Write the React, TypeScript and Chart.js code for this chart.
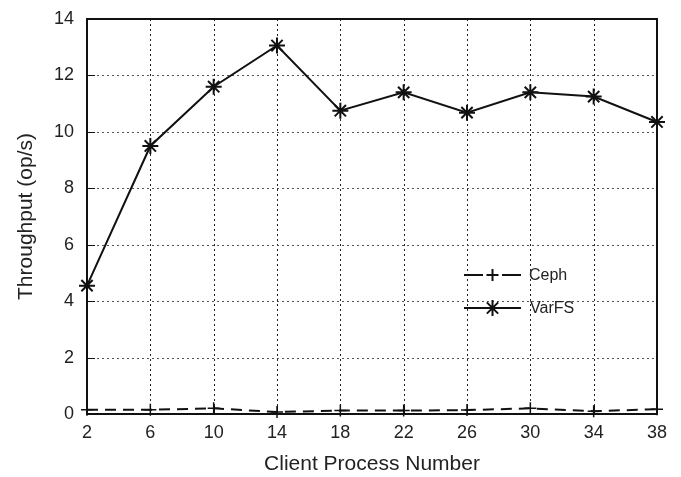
import React, { useEffect, useRef } from "react";
import { Chart, registerables } from "chart.js";

Chart.register(...registerables);

// Client process counts on the x axis
const processCounts = [2, 6, 10, 14, 18, 22, 26, 30, 34, 38];
// Throughput in op/s
const cephThroughput = [0.15, 0.15, 0.2, 0.07, 0.12, 0.12, 0.14, 0.2, 0.1, 0.17];
const varfsThroughput = [4.55, 9.5, 11.6, 13.06, 10.75, 11.4, 10.68, 11.4, 11.25, 10.35];
const yTicks = [0, 2, 4, 6, 8, 10, 12, 14];

const FONT = "'Liberation Sans', Arial, Helvetica, sans-serif";

// Dotted grid, inward tick marks, box frame and an inset legend
const framePlugin = {
  id: "frameGrid",
  beforeDatasetsDraw(chart: any) {
    const { ctx, chartArea: ca, scales } = chart;
    const xs = scales.x;
    const ys = scales.y;
    ctx.save();
    ctx.strokeStyle = "#222";
    ctx.lineWidth = 1;
    ctx.setLineDash([2, 3]);
    processCounts.forEach((_, i) => {
      if (i === 0 || i === processCounts.length - 1) return;
      const x = Math.round(xs.getPixelForValue(i)) + 0.5;
      ctx.beginPath();
      ctx.moveTo(x, ca.top);
      ctx.lineTo(x, ca.bottom);
      ctx.stroke();
    });
    ctx.strokeStyle = "#555";
    yTicks.forEach((v) => {
      if (v === yTicks[0] || v === yTicks[yTicks.length - 1]) return;
      const y = Math.round(ys.getPixelForValue(v)) + 0.5;
      ctx.beginPath();
      ctx.moveTo(ca.left, y);
      ctx.lineTo(ca.right, y);
      ctx.stroke();
    });
    // inward ticks
    ctx.setLineDash([]);
    ctx.strokeStyle = "#111";
    yTicks.forEach((v) => {
      const y = Math.round(ys.getPixelForValue(v)) + 0.5;
      ctx.beginPath();
      ctx.moveTo(ca.left, y);
      ctx.lineTo(ca.left + 8, y);
      ctx.stroke();
    });
    processCounts.forEach((_, i) => {
      const x = Math.round(xs.getPixelForValue(i)) + 0.5;
      ctx.beginPath();
      ctx.moveTo(x, ca.bottom);
      ctx.lineTo(x, ca.bottom - 8);
      ctx.stroke();
    });
    ctx.restore();
  },
  afterDatasetsDraw(chart: any) {
    const { ctx, chartArea: ca } = chart;
    ctx.save();
    ctx.strokeStyle = "#111";
    ctx.lineWidth = 2;
    ctx.strokeRect(ca.left, ca.top, ca.right - ca.left, ca.bottom - ca.top);

    // legend
    const x0 = ca.left + 377;
    const x1 = ca.left + 434;
    const xm = (x0 + x1) / 2;
    const rows = [ca.top + 256, ca.top + 289];
    const sets = chart.data.datasets;
    ctx.lineWidth = 2;
    ctx.strokeStyle = "#111";
    // Ceph sample: dash, plus, dash
    let y = rows[0];
    ctx.beginPath();
    ctx.moveTo(x0, y);
    ctx.lineTo(x0 + 19, y);
    ctx.moveTo(x1 - 19, y);
    ctx.lineTo(x1, y);
    ctx.moveTo(xm - 6, y);
    ctx.lineTo(xm + 6, y);
    ctx.moveTo(xm, y - 6);
    ctx.lineTo(xm, y + 6);
    ctx.stroke();
    // VarFS sample: solid line with asterisk
    y = rows[1];
    ctx.beginPath();
    ctx.moveTo(x0, y);
    ctx.lineTo(x1, y);
    ctx.stroke();
    const r = 8;
    ctx.beginPath();
    for (let k = 0; k < 4; k++) {
      const a = (k * Math.PI) / 4;
      ctx.moveTo(xm - r * Math.cos(a), y - r * Math.sin(a));
      ctx.lineTo(xm + r * Math.cos(a), y + r * Math.sin(a));
    }
    ctx.stroke();

    ctx.fillStyle = "#222";
    ctx.font = `16px ${FONT}`;
    ctx.textBaseline = "middle";
    ctx.textAlign = "left";
    ctx.fillText(sets[0].label, x1 + 8, rows[0] + 1);
    ctx.fillText(sets[1].label, x1 + 9, rows[1] + 1);
    ctx.restore();
  },
};

export default function App() {
  const canvasRef = useRef<HTMLCanvasElement | null>(null);

  useEffect(() => {
    const canvas = canvasRef.current;
    if (!canvas) return;
    const chart = new Chart(canvas, {
      type: "line",
      data: {
        labels: processCounts.map(String),
        datasets: [
          {
            label: "Ceph",
            data: cephThroughput,
            borderColor: "#111",
            backgroundColor: "#111",
            borderWidth: 2,
            borderDash: [11, 7],
            pointStyle: "cross",
            pointRadius: 6,
            pointBorderWidth: 1.5,
            pointBorderColor: "#111",
            tension: 0,
            clip: false,
          },
          {
            label: "VarFS",
            data: varfsThroughput,
            borderColor: "#111",
            backgroundColor: "#111",
            borderWidth: 2,
            pointStyle: "star",
            pointRadius: 8,
            pointBorderWidth: 2,
            pointBorderColor: "#111",
            tension: 0,
            clip: false,
          },
        ],
      },
      options: {
        responsive: false,
        animation: false,
        events: [],
        layout: { padding: { top: 19, right: 24, left: 0, bottom: 0 } },
        plugins: {
          legend: { display: false },
          tooltip: { enabled: false },
        },
        scales: {
          x: {
            offset: false,
            grid: { display: false, drawTicks: true, tickLength: 8 },
            border: { display: false },
            ticks: {
              color: "#222",
              font: { family: FONT, size: 18 },
              padding: 0,
              maxRotation: 0,
              autoSkip: false,
            },
            title: {
              display: true,
              text: "Client Process Number",
              color: "#222",
              font: { family: FONT, size: 21 },
              padding: { top: 0, bottom: 0 },
            },
            afterFit(scale: any) {
              scale.height = 63;
            },
          },
          y: {
            min: 0,
            max: 14,
            grid: { display: false, drawTicks: true, tickLength: 13 },
            border: { display: false },
            ticks: {
              stepSize: 2,
              color: "#222",
              font: { family: FONT, size: 18 },
              padding: 0,
            },
            title: {
              display: true,
              text: "Throughput (op/s)",
              color: "#222",
              font: { family: FONT, size: 21 },
              padding: { top: 14, bottom: 0 },
            },
            afterFit(scale: any) {
              scale.width = 87;
            },
          },
        },
      },
      plugins: [framePlugin],
    });
    return () => chart.destroy();
  }, []);

  return (
    <div style={{ position: "fixed", left: 0, top: 0, width: 681, height: 477, background: "#fff" }}>
      <canvas ref={canvasRef} width={681} height={477} />
    </div>
  );
}
